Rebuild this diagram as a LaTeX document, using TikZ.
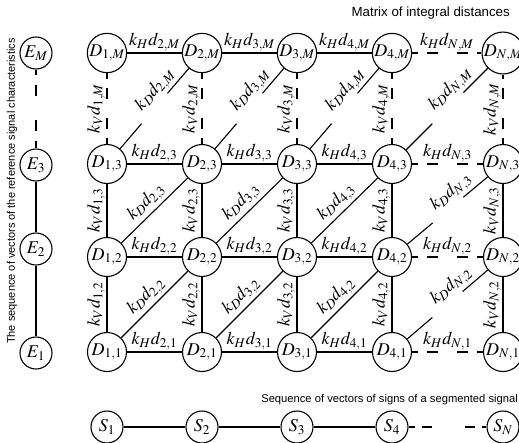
\documentclass[tikz,border=0pt]{standalone}
\usepackage[no-math]{fontspec}
\usepackage{mathptmx}
\newfontfamily\arialf{Liberation Sans}
\begin{document}
\begin{tikzpicture}[x=1pt,y=-1pt,
  mfont/.style={font=\fontsize{18}{21}\selectfont},
  dnode/.style={draw,circle,line width=1.1pt,minimum size=39pt,inner sep=0pt,mfont},
  enode/.style={draw,circle,line width=1.1pt,minimum size=32pt,inner sep=0pt,mfont},
  edge/.style={line width=1.1pt},
  hvdash/.style={dash pattern=on 6pt off 9pt on 11pt off 19pt on 11pt off 9pt on 6pt off 60pt},
  edash/.style={dash pattern=on 7pt off 10pt on 11pt off 24pt on 11pt off 10pt on 7pt off 60pt},
  sdash/.style={dash pattern=on 6pt off 7pt on 10pt off 33pt on 10pt off 7pt on 6pt off 60pt},
  ddash/.style={dash pattern=on 33pt off 40pt on 33pt off 60pt},
  ddashl/.style={dash pattern=on 37pt off 44pt on 37pt off 60pt},
  hlab/.style={midway,above,inner sep=1.5pt,mfont},
  vlab/.style={midway,sloped,above,inner sep=1.5pt,mfont},
  dlab/.style={pos=0.5,sloped,above,inner sep=2pt,mfont},
  dlabd/.style={pos=0.64,sloped,above,inner sep=2pt,mfont},
  sans/.style={inner sep=0pt,font=\arialf\fontsize{#1}{#1}\selectfont}
]
\useasboundingbox (0,0) rectangle (519,442);

% grid nodes
\foreach \c/\x in {1/107,2/202,3/297,4/392,N/503}{
  \foreach \r/\y in {1/352,2/257,3/164,M/53}{
    \node[dnode] (d-\c-\r) at (\x,\y) {$D_{\c,\r}$};
  }
  \node[enode] (s-\c) at (\x,427) {$S_{\c}$};
}
% E column
\node[enode] (e-M) at (36,53) {$E_M$};
\node[enode] (e-3) at (36,165) {$E_3$};
\node[enode] (e-2) at (36,249) {$E_2$};
\node[enode] (e-1) at (36,353) {$E_1$};
\draw[edge] (e-1) -- (e-2);
\draw[edge] (e-2) -- (e-3);
\draw[edge,edash] (e-3) -- (e-M);

% S row
\draw[edge] (s-1) -- (s-2);
\draw[edge] (s-2) -- (s-3);
\draw[edge] (s-3) -- (s-4);
\draw[edge,sdash] (s-4) -- (s-N);

% horizontal edges
\foreach \a/\b in {1/2,2/3,3/4}{
  \foreach \r in {1,2,3,M}{
    \draw[edge] (d-\a-\r) -- node[hlab]{$k_H d_{\b,\r}$} (d-\b-\r);
  }
}
\foreach \r in {1,2,3,M}{
  \draw[edge,hvdash] (d-4-\r) -- node[hlab]{$k_H d_{N,\r}$} (d-N-\r);
}

% vertical edges
\foreach \c in {1,2,3,4,N}{
  \draw[edge] (d-\c-1) -- node[vlab]{$k_V d_{\c,2}$} (d-\c-2);
  \draw[edge] (d-\c-2) -- node[vlab]{$k_V d_{\c,3}$} (d-\c-3);
  \draw[edge,hvdash] (d-\c-3) -- node[vlab]{$k_V d_{\c,M}$} (d-\c-M);
}

% diagonal edges
\foreach \a/\b in {1/2,2/3,3/4}{
  \draw[edge] (d-\a-1) -- node[dlab]{$k_D d_{\b,2}$} (d-\b-2);
  \draw[edge] (d-\a-2) -- node[dlab]{$k_D d_{\b,3}$} (d-\b-3);
  \draw[edge,ddash] (d-\a-3) -- node[dlabd]{$k_D d_{\b,M}$} (d-\b-M);
}
\draw[edge,ddash] (d-4-1) -- node[dlabd]{$k_D d_{N,2}$} (d-N-2);
\draw[edge,ddash] (d-4-2) -- node[dlabd]{$k_D d_{N,3}$} (d-N-3);
\draw[edge,ddashl] (d-4-3) -- node[dlabd]{$k_D d_{N,M}$} (d-N-M);

% titles
\node[sans=13.3,anchor=east] (mtitle) at (510,13) {Matrix of integral distances};
\node[sans=11.2,anchor=east] (stitle) at (518,400) {Sequence of vectors of signs of a segmented signal};
\node[sans=11,rotate=90] (etitle) at (12,191) {The sequence of vectors of the reference signal characteristics};
\end{tikzpicture}
\end{document}
